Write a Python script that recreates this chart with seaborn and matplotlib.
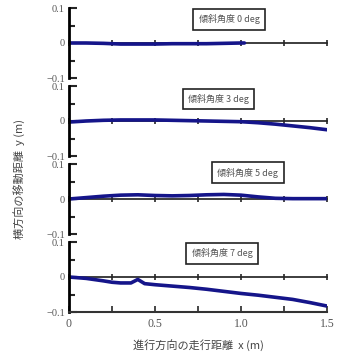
import numpy as np
import pandas as pd
import matplotlib
matplotlib.use("Agg")
import matplotlib.pyplot as plt
import seaborn as sns
from matplotlib.ticker import MultipleLocator

sns.set_theme(style="white")
plt.rcParams['font.family'] = ['Liberation Serif', 'Noto Sans CJK JP']

labels = ["傾斜角度 0 deg", "傾斜角度 3 deg", "傾斜角度 5 deg", "傾斜角度 7 deg"]

x0 = [0.0, 0.1, 0.2, 0.3, 0.4, 0.5, 0.6, 0.7, 0.8, 0.9, 1.0, 1.02]
y0 = [0.0, 0.0, -0.001, -0.003, -0.003, -0.003, -0.002, -0.002, -0.002, -0.001, 0.0, 0.0]

x3 = [0.0, 0.1, 0.2, 0.3, 0.4, 0.5, 0.6, 0.7, 0.8, 0.9, 1.0, 1.1, 1.2, 1.3, 1.4, 1.5]
y3 = [-0.003, 0.0, 0.002, 0.003, 0.003, 0.003, 0.002, 0.001, 0.0, -0.001, -0.002, -0.005, -0.009, -0.014, -0.019, -0.025]

x5 = [0.0, 0.1, 0.2, 0.3, 0.4, 0.5, 0.6, 0.7, 0.8, 0.9, 1.0, 1.1, 1.2, 1.3, 1.4, 1.5]
y5 = [0.0, 0.004, 0.008, 0.011, 0.012, 0.010, 0.009, 0.010, 0.012, 0.013, 0.011, 0.006, 0.002, 0.001, 0.001, 0.001]

x7 = [0.0, 0.1, 0.2, 0.25, 0.3, 0.36, 0.4, 0.44, 0.5, 0.6, 0.7, 0.8, 0.9, 1.0, 1.1, 1.2, 1.3, 1.4, 1.5]
y7 = [0.0, -0.004, -0.011, -0.015, -0.017, -0.017, -0.007, -0.019, -0.022, -0.026, -0.030, -0.035, -0.041, -0.047, -0.052, -0.058, -0.064, -0.073, -0.083]

series = [(x0, y0), (x3, y3), (x5, y5), (x7, y7)]
box_x = [0.93, 0.87, 1.04, 0.89]
box_y = [0.068, 0.063, 0.075, 0.068]

W, H = 338, 358
fig = plt.figure(figsize=(W / 100, H / 100), dpi=100)
left = 69 / W
width = 258 / W
tops = [8, 86, 164, 242]
ph = 70
line_color = "#15158a"
axes = []
for i, (xs, ys) in enumerate(series):
    ax = fig.add_axes([left, 1 - (tops[i] + ph) / H, width, ph / H])
    df = pd.DataFrame({"x": xs, "y": ys})
    sns.lineplot(data=df, x="x", y="y", ax=ax, color=line_color, lw=2.6, legend=False)
    ax.set_xlim(0, 1.5)
    ax.set_ylim(-0.1, 0.1)
    ax.set_xlabel("")
    ax.set_ylabel("")
    for s in ["top", "right"]:
        ax.spines[s].set_visible(False)
    ax.spines["left"].set_linewidth(2.0)
    ax.spines["left"].set_color("black")
    ax.set_yticks([-0.1, 0, 0.1])
    ax.set_yticklabels(["−0.1", "0", "0.1"], color="#555555", fontsize=7.5)
    ax.yaxis.set_minor_locator(MultipleLocator(0.05))
    ax.tick_params(axis="y", which="major", direction="in", length=6, width=1.5, left=True, pad=3)
    ax.tick_params(axis="y", which="minor", direction="in", length=4, width=1.5, left=True)
    sec = ax.secondary_xaxis(0.5)
    sec.spines["bottom"].set_linewidth(0.8)
    sec.spines["bottom"].set_color("#444444")
    sec.set_xticks([0, 0.25, 0.5, 0.75, 1.0, 1.25, 1.5])
    sec.set_xticklabels([])
    sec.tick_params(axis="x", direction="inout", length=4, width=1.2,
                    labelbottom=False, labeltop=False, bottom=True, top=False)
    if i < 3:
        ax.spines["bottom"].set_visible(False)
        ax.tick_params(axis="x", bottom=False, labelbottom=False)
    else:
        ax.spines["bottom"].set_linewidth(1.5)
        ax.spines["bottom"].set_color("#333333")
        ax.set_xticks([0, 0.5, 1.0, 1.5])
        ax.set_xticklabels(["0", "0.5", "1.0", "1.5"], color="#555555", fontsize=8.5)
        ax.xaxis.set_minor_locator(MultipleLocator(0.25))
        ax.tick_params(axis="x", which="both", direction="in", length=4, width=1.2, bottom=True, pad=4)
    ax.text(box_x[i], box_y[i], labels[i], ha="center", va="center", fontsize=6.5,
            family=['Noto Sans CJK JP'], color="#555555",
            bbox=dict(boxstyle="square,pad=0.6", fc="white", ec="#222222", lw=1.2))
    axes.append(ax)

fig.text(19 / W, 0.5, "横方向の移動距離  y (m)", rotation=90, ha="center", va="center",
         fontsize=8, color="#444444", family=['Noto Sans CJK JP'])
fig.text(198 / W, 1 - 345 / H, "進行方向の走行距離  x (m)", ha="center", va="center",
         fontsize=8, color="#444444", family=['Noto Sans CJK JP'])

fig.savefig("out.png", dpi=100, facecolor="white")
